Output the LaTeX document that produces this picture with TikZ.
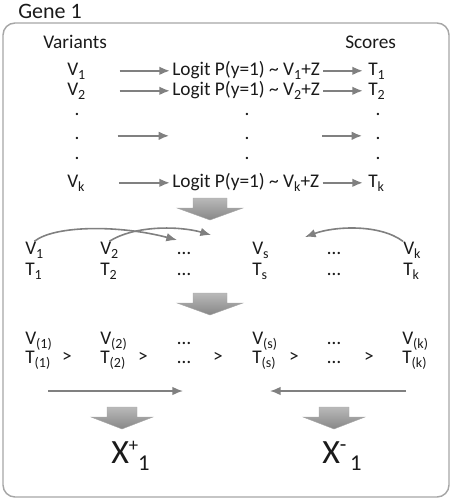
\documentclass[tikz,border=0pt]{standalone}
\usepackage{fontspec}
\setmainfont{Carlito}
\usetikzlibrary{calc}
\usetikzlibrary{arrows.meta}
\definecolor{txt}{HTML}{1A1A1A}
\definecolor{arr}{HTML}{808080}
\definecolor{frame}{HTML}{A6A6A6}
\newcommand\sub[1]{\raisebox{-3.2pt}{\fontsize{10.5}{12}\selectfont #1}}
\newcommand\bigdown[4]{\shade[top color=arr!55, bottom color=arr!95, draw=arr!70, line width=0.3pt]
  ({#1-#3},#2) -- ({#1+#3},#2) -- ({#1+#3},#2+10) -- ({#1+#4},#2+10) -- (#1,#2+22) -- ({#1-#4},#2+10) -- ({#1-#3},#2+10) -- cycle;}

\begin{document}
\begin{tikzpicture}[x=0.75pt,y=-0.75pt,
  lbl/.style={anchor=base west, inner sep=0pt, text=txt, font=\fontsize{14.5}{17}\selectfont},
  dot/.style={lbl, anchor=base},
  garrow/.style={arr, line width=1.5pt, -{Latex[length=8pt,width=6.5pt]}}]

\useasboundingbox (0,0) rectangle (452,500);
\draw[frame, line width=1.1pt, rounded corners=9pt] (3,23) rectangle (449,497);
\node[lbl, font=\fontsize{16.5}{19}\selectfont] (gene) at (18,18) {Gene 1};

\node[lbl] (var) at (43,48) {Variants};
\node[lbl] (sco) at (345,48) {Scores};

\node[lbl] (v1) at (67,75) {V\sub{1}};
\node[lbl] (m1) at (172,75) {Logit P(y=1) \textasciitilde{} V\sub{1}+Z};
\node[lbl] (t1) at (368,75) {T\sub{1}};
\node[lbl] (v2) at (67,95) {V\sub{2}};
\node[lbl] (m2) at (172,95) {Logit P(y=1) \textasciitilde{} V\sub{2}+Z};
\node[lbl] (t2) at (368,95) {T\sub{2}};
\foreach \y/\n in {115/a,139/b,159/c}{
  \node[dot] (p\n1) at (77,\y) {.};
  \node[dot] (p\n2) at (247,\y) {.};
  \node[dot] (p\n3) at (378,\y) {.};
}
\node[lbl] (vk) at (67,187) {V\sub{k}};
\node[lbl] (mk) at (172,187) {Logit P(y=1) \textasciitilde{} V\sub{k}+Z};
\node[lbl] (tk) at (368,187) {T\sub{k}};

\foreach \r in {1,2,k}{
  \draw[garrow] ($(v\r.mid east)+(34,-1)$) -- ($(m\r.mid west)+(-2,-1)$);
  \draw[garrow] ($(m\r.mid east)+(3,-1)$) -- ($(t\r.mid west)+(-5,-1)$);
}
\draw[garrow] ($(pb1.mid east)+(38,0)$) -- ($(pb2.mid west)+(-75,0)$);
\draw[garrow] ($(pb3.mid west)+(-53,0)$) -- ($(pb3.mid west)+(-13,0)$);

\bigdown{210}{198}{17}{33}

% sorted by nothing yet
\node[lbl] (a1) at (25,254) {V\sub{1}};
\node[lbl] (b1) at (25,275) {T\sub{1}};
\node[lbl] (a2) at (100,254) {V\sub{2}};
\node[lbl] (b2) at (100,275) {T\sub{2}};
\node[lbl] (a3) at (177,254) {…};
\node[lbl] (b3) at (177,275) {…};
\node[lbl] (as) at (252,254) {V\sub{s}};
\node[lbl] (bs) at (252,275) {T\sub{s}};
\node[lbl] (a4) at (327,254) {…};
\node[lbl] (b4) at (327,275) {…};
\node[lbl] (ak) at (403,254) {V\sub{k}};
\node[lbl] (bk) at (403,275) {T\sub{k}};

\coordinate (e1) at (177,240);
\coordinate (e2) at (211,235);
\coordinate (e3) at (305,237);
\draw[garrow, line width=1.2pt] (a1.north) .. controls (55,225) and (120,225) .. (e1);
\draw[garrow, line width=1.2pt] (a2.north) .. controls (135,225) and (180,226) .. (e2);
\draw[garrow, line width=1.2pt] (ak.north west) .. controls (380,224) and (335,226) .. (e3);

\bigdown{210}{293}{17}{33}

% sorted
\node[lbl] (c1) at (25,344) {V\sub{(1)}};
\node[lbl] (d1) at (25,363) {T\sub{(1)}};
\node[lbl] (c2) at (100,344) {V\sub{(2)}};
\node[lbl] (d2) at (100,363) {T\sub{(2)}};
\node[lbl] (c3) at (177,344) {…};
\node[lbl] (d3) at (177,363) {…};
\node[lbl] (cs) at (252,344) {V\sub{(s)}};
\node[lbl] (ds) at (252,363) {T\sub{(s)}};
\node[lbl] (c4) at (327,344) {…};
\node[lbl] (d4) at (327,363) {…};
\node[lbl] (ck) at (402,344) {V\sub{(k)}};
\node[lbl] (dk) at (402,363) {T\sub{(k)}};
\foreach \x/\n in {67/1,143/2,218/3,294/4,369/5}
  \node[dot] (gt\n) at (\x,362) {>};

\coordinate (l1) at (48,391);
\coordinate (l2) at (183,391);
\coordinate (r1) at (406,391);
\coordinate (r2) at (270,391);
\draw[garrow, line width=1.2pt] (l1) -- (l2);
\draw[garrow, line width=1.2pt] (r1) -- (r2);

\bigdown{122}{407}{15}{31}
\bigdown{334}{407}{15}{31}

\node[lbl, font=\fontsize{25.5}{30}\selectfont] (xp) at (111,463)
  {X{\fontsize{14}{14}\selectfont\raisebox{8.5pt}{+}}{\fontsize{17}{17}\selectfont\raisebox{-5.5pt}{1}}};
\node[lbl, font=\fontsize{25.5}{30}\selectfont] (xm) at (322,463)
  {X{\fontsize{16}{16}\selectfont\raisebox{8.5pt}{-}}{\fontsize{17}{17}\selectfont\raisebox{-5.5pt}{\,1}}};

\end{tikzpicture}
\end{document}
